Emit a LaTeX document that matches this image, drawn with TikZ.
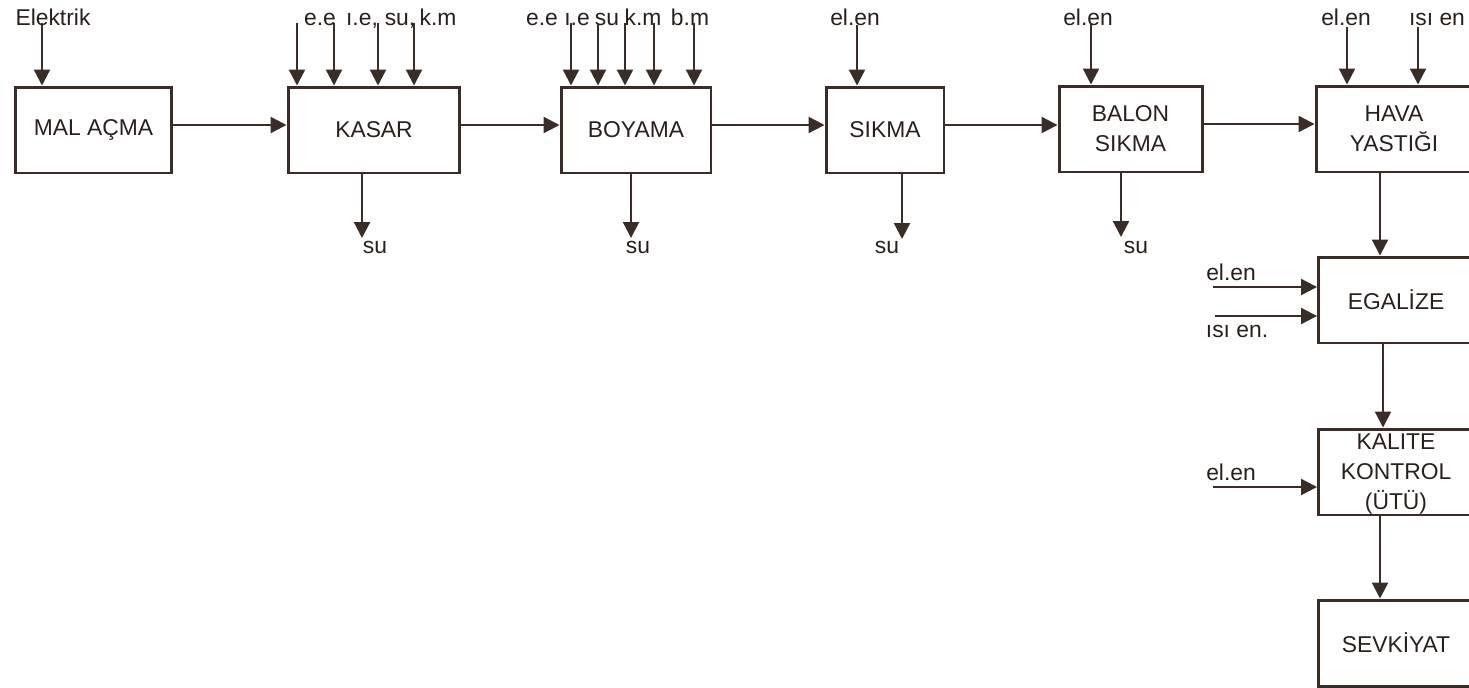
\documentclass[tikz,border=0pt]{standalone}
\usepackage{fontspec}
\setmainfont{Liberation Sans}
\usetikzlibrary{arrows.meta}
\definecolor{ink}{RGB}{58,44,38}

\begin{document}
\begin{tikzpicture}[x=0.02cm, y=-0.02cm,
  every node/.style={font=\fontsize{13}{17}\selectfont, text=ink!70!black},
  stage/.style={draw=ink, line width=1.7pt, minimum height=1.72cm, align=center, inner sep=0pt},
  tag/.style={anchor=base, inner sep=0pt},
  flow/.style={draw=ink, line width=1.3pt, -{Triangle[length=0.32cm, width=0.32cm]}}]
  \useasboundingbox (0,0) rectangle (1469,687);
  % stages along the top
  \node[stage, minimum width=3.14cm] (mal) at (93.5,130) {MAL AÇMA};
  \node[stage, minimum width=3.44cm] (kasar) at (374,130) {KASAR};
  \node[stage, minimum width=3.0cm] (boya) at (636,130) {BOYAMA};
  \node[stage, minimum width=2.36cm] (sikma) at (885,130) {SIKMA};
  \node[stage, minimum width=2.86cm] (balon) at (1130.5,129) {BALON\\SIKMA};
  \node[stage, minimum width=3.12cm] (hava) at (1394,129) {HAVA\\YASTIĞI};
  % stages going down on the right
  \node[stage, minimum width=3.1cm] (egal) at (1396,300) {EGALİZE};
  \node[stage, minimum width=3.1cm] (kalite) at (1396,472) {KALİTE\\KONTROL\\(ÜTÜ)};
  \node[stage, minimum width=3.1cm] (sevk) at (1396,643) {SEVKİYAT};
  % main flow
  \draw[flow] ([yshift=0.1cm]mal.east) -- ([yshift=0.1cm]mal.east -| kasar.west);
  \draw[flow] ([yshift=0.1cm]kasar.east) -- ([yshift=0.1cm]kasar.east -| boya.west);
  \draw[flow] ([yshift=0.1cm]boya.east) -- ([yshift=0.1cm]boya.east -| sikma.west);
  \draw[flow] ([yshift=0.1cm]sikma.east) -- ([yshift=0.1cm]sikma.east -| balon.west);
  \draw[flow] ([yshift=0.1cm]balon.east) -- ([yshift=0.1cm]balon.east -| hava.west);
  \coordinate (v1) at (1380,0);
  \coordinate (v2) at (1383,0);
  \draw[flow] (hava.south -| v1) -- (egal.north -| v1);
  \draw[flow] (egal.south -| v2) -- (kalite.north -| v2);
  \draw[flow] (kalite.south -| v1) -- (sevk.north -| v1);
  % inputs from above
  \node[tag] (tElek) at (53,25) {Elektrik};
  \coordinate (iElek) at (42,23);
  \draw[flow] (iElek) -- (iElek |- mal.north);
  \node[tag] (tK1) at (320,25) {e.e};
  \node[tag] (tK2) at (362,25) {ı.e,};
  \node[tag] (tK3) at (400,25) {su,};
  \node[tag] (tK4) at (438,25) {k.m};
  \coordinate (iK1) at (297,23);
  \coordinate (iK2) at (334,23);
  \coordinate (iK3) at (378,23);
  \coordinate (iK4) at (414,23);
  \draw[flow] (iK1) -- (iK1 |- kasar.north);
  \draw[flow] (iK2) -- (iK2 |- kasar.north);
  \draw[flow] (iK3) -- (iK3 |- kasar.north);
  \draw[flow] (iK4) -- (iK4 |- kasar.north);
  \node[tag] (tB1) at (542,25) {e.e};
  \node[tag] (tB2) at (577,25) {ı.e};
  \node[tag] (tB3) at (607,25) {su};
  \node[tag] (tB4) at (643,25) {k.m};
  \node[tag] (tB5) at (690,25) {b.m};
  \coordinate (iB1) at (571,23);
  \coordinate (iB2) at (598,23);
  \coordinate (iB3) at (625,23);
  \coordinate (iB4) at (654,23);
  \coordinate (iB5) at (694,23);
  \draw[flow] (iB1) -- (iB1 |- boya.north);
  \draw[flow] (iB2) -- (iB2 |- boya.north);
  \draw[flow] (iB3) -- (iB3 |- boya.north);
  \draw[flow] (iB4) -- (iB4 |- boya.north);
  \draw[flow] (iB5) -- (iB5 |- boya.north);
  \node[tag] (tS) at (855,25) {el.en};
  \coordinate (iS) at (857,25);
  \draw[flow] (iS) -- (iS |- sikma.north);
  \node[tag] (tL) at (1088,25) {el.en};
  \coordinate (iL) at (1091,23);
  \draw[flow] (iL) -- (iL |- balon.north);
  \node[tag] (tH1) at (1346,25) {el.en};
  \node[tag] (tH2) at (1437,25) {ısı en};
  \coordinate (iH1) at (1347,27);
  \coordinate (iH2) at (1418,27);
  \draw[flow] (iH1) -- (iH1 |- hava.north);
  \draw[flow] (iH2) -- (iH2 |- hava.north);
  % inputs from the left
  \node[tag] (tG1) at (1231,280) {el.en};
  \node[tag] (tG2) at (1237,337) {ısı en.};
  \node[tag] (tQ) at (1231,480) {el.en};
  \coordinate (iG1) at (1213,287);
  \coordinate (iG2) at (1215,316);
  \coordinate (iQ) at (1213,487);
  \draw[flow] (iG1) -- (iG1 -| egal.west);
  \draw[flow] (iG2) -- (iG2 -| egal.west);
  \draw[flow] (iQ) -- (iQ -| kalite.west);
  % water leaving
  \coordinate (oK) at (362,238);
  \coordinate (oB) at (631,238);
  \coordinate (oS) at (902,239);
  \coordinate (oL) at (1121,237);
  \draw[flow] (oK |- kasar.south) -- (oK);
  \draw[flow] (oB |- boya.south) -- (oB);
  \draw[flow] (oS |- sikma.south) -- (oS);
  \draw[flow] (oL |- balon.south) -- (oL);
  \node[tag] (tOK) at (375,253) {su};
  \node[tag] (tOB) at (638,253) {su};
  \node[tag] (tOS) at (887,253) {su};
  \node[tag] (tOL) at (1136,253) {su};
\end{tikzpicture}
\end{document}
